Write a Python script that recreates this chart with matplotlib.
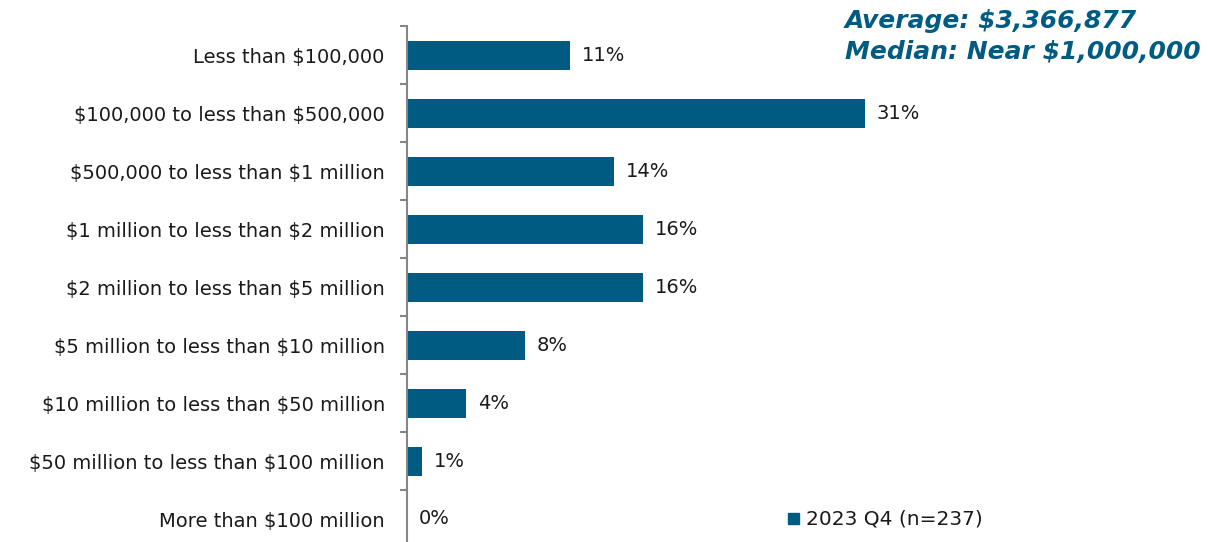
import matplotlib
matplotlib.use("Agg")
import matplotlib.pyplot as plt
import numpy as np

plt.rcParams["text.parse_math"] = False

categories = [
    "Less than $100,000",
    "$100,000 to less than $500,000",
    "$500,000 to less than $1 million",
    "$1 million to less than $2 million",
    "$2 million to less than $5 million",
    "$5 million to less than $10 million",
    "$10 million to less than $50 million",
    "$50 million to less than $100 million",
    "More than $100 million",
]
values = [11, 31, 14, 16, 16, 8, 4, 1, 0]
series_name = "2023 Q4 (n=237)"
summary_lines = ["Average: $3,366,877", "Median: Near $1,000,000"]

bar_color = "#005B82"
axis_color = "#868686"
text_color = "#1a1a1a"
font = ["DejaVu Sans"]

W, H = 1208, 542
fig = plt.figure(figsize=(W / 100, H / 100), dpi=100)
# plot area: spine at x=407px, rows from y=26px down past the bottom edge
ax = fig.add_axes([407 / W, 1 - 548 / H, 1 - 407 / W, (548 - 26) / H])

y = np.arange(len(categories))
ax.barh(y, values, height=0.5, color=bar_color)
ax.set_ylim(len(categories) - 0.5, -0.5)
ax.set_xlim(0, 54.2)

for yi, v in zip(y, values):
    ax.text(v + 0.8, yi, f"{v}%", va="center", ha="left", fontsize=14,
            family=font, color=text_color)

ax.set_yticks(y)
ax.set_yticklabels(categories, fontsize=14, family=font, color=text_color)
ax.tick_params(axis="y", which="major", length=0, pad=16)
ax.set_yticks(np.arange(-0.5, len(categories)), minor=True)
ax.tick_params(axis="y", which="minor", length=5, width=1.5, color=axis_color, direction="out")
ax.set_xticks([])

for side in ["top", "right", "bottom"]:
    ax.spines[side].set_visible(False)
ax.spines["left"].set_color(axis_color)
ax.spines["left"].set_linewidth(1.5)

# summary statistics, top right, left-aligned block
for i, line in enumerate(summary_lines):
    fig.text(845 / W, 1 - (21 + 31 * i) / H, line, ha="left", va="center",
             fontsize=18, fontweight="bold", fontstyle="italic", family=font,
             color=bar_color)

# legend entry
fig.patches.append(plt.Rectangle((788 / W, 1 - 524 / H), 11 / W, 11 / H,
                                 transform=fig.transFigure, color=bar_color))
fig.text(806 / W, 1 - 519 / H, series_name, ha="left", va="center",
         fontsize=14.5, family=font, color=text_color)

fig.savefig("out.png", dpi=100)
